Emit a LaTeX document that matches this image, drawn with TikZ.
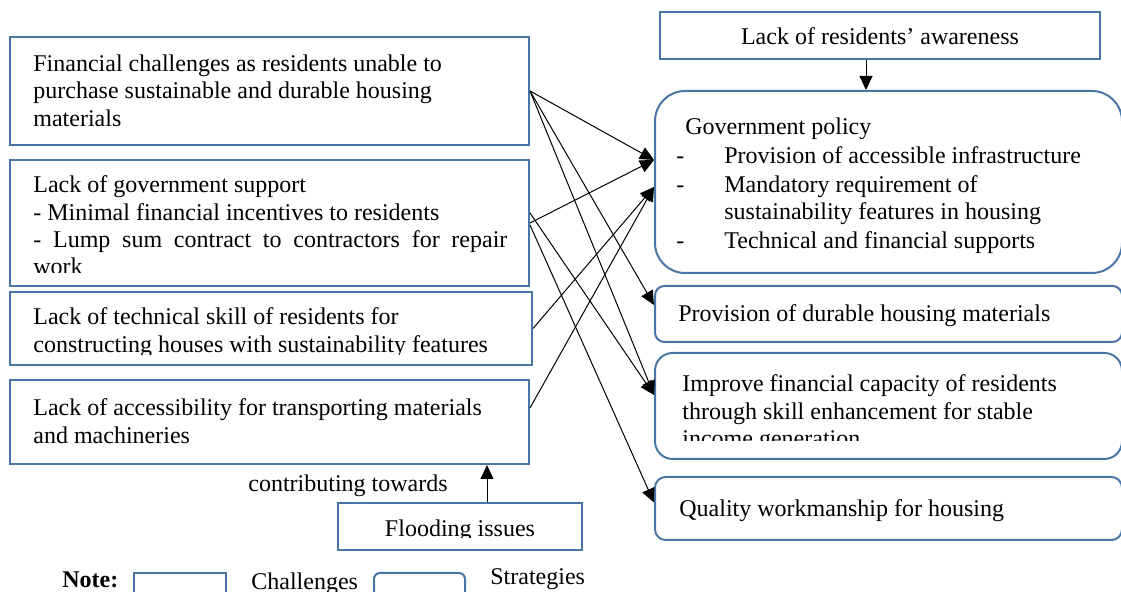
\documentclass[tikz,border=0pt]{standalone}
\usepackage{fontspec}
\setmainfont{Liberation Serif}
\usepackage{xcolor}
\definecolor{boxblue}{HTML}{4A76A6}
\usepackage{tikz}
\usetikzlibrary{arrows.meta,calc}

\begin{document}
\begin{tikzpicture}[x=0.5pt, y=-0.5pt, font=\fontsize{12}{13.6}\selectfont,
  chal/.style={draw=boxblue, line width=1pt, inner sep=0pt},
  strat/.style={chal, rounded corners=#1}, strat/.default=5pt,
  txt/.style={anchor=base west, inner sep=0pt, text width=250pt, align=flush left},
  arr/.style={-{Triangle[length=7pt,width=6.5pt]}, line width=0.5pt}]
  \useasboundingbox (0,0) rectangle (1121,592);

  % challenges, left column
  \node[chal, minimum width=259.5pt, minimum height=54pt] (fin) at (269.5,91) {};
  \node[chal, minimum width=259.5pt, minimum height=63pt] (govsup) at (269.5,223) {};
  \node[chal, minimum width=261pt, minimum height=36.5pt] (skill) at (271,328.5) {};
  \node[chal, minimum width=259.5pt, minimum height=42pt] (access) at (269.5,422) {};
  \node[chal, minimum width=122pt, minimum height=23.5pt] (flood) at (460,526.5) {};
  \node[chal, minimum width=220pt, minimum height=23.5pt] (aware) at (880,35.5) {};

  \node[txt] (fintxt) at (33,71.7)
    {Financial challenges as residents unable to\\
     purchase sustainable and durable housing\\materials};
  \begin{scope}
    \clip (10,160) rectangle (529,273);
    \node[txt] (govsuptxt) at (33,193)
      {Lack of government support\\
       - Minimal financial incentives to residents\\
       \leavevmode\hbox to 237pt{-\hfill Lump\hfill sum\hfill contract\hfill to\hfill
         contractors\hfill for\hfill repair}\\work};
  \end{scope}
  \begin{scope}
    \clip (10,292) rectangle (532,355);
    \node[txt] (skilltxt) at (33,325)
      {Lack of technical skill of residents for\\[0.4pt]
       constructing houses with sustainability features};
  \end{scope}
  \node[txt] (accesstxt) at (33,416)
    {Lack of accessibility for transporting materials\\and machineries};
  \begin{scope}
    \clip (338,503) rectangle (582,538);
    \node[anchor=base, inner sep=0pt] (floodtxt) at (460,537) {Flooding issues};
  \end{scope}
  \node[anchor=base, inner sep=0pt] (awaretxt) at (880,45) {Lack of residents’ awareness};
  \node[anchor=base west, inner sep=0pt] (contrib) at (248,492) {contributing towards};

  % strategies, right column
  \node[strat=15pt, minimum width=233.5pt, minimum height=91pt] (policy) at (888.5,182) {};
  \node[strat=4.7pt, minimum width=233.5pt, minimum height=28pt] (durable) at (888.5,314) {};
  \node[strat=8.8pt, minimum width=233.5pt, minimum height=53pt] (income) at (888.5,406) {};
  \node[strat=5.3pt, minimum width=233.5pt, minimum height=31.5pt] (quality) at (888.5,508.5) {};

  \node[txt, text width=222pt] (policytxt) at (676,135)
    {\hspace*{4.5pt}Government policy\\[0.6pt]
     \makebox[24pt][l]{-}Provision of accessible infrastructure\\[0.8pt]
     \makebox[24pt][l]{-}Mandatory requirement of\\
     \hspace*{24pt}sustainability features in housing\\[0.8pt]
     \makebox[24pt][l]{-}Technical and financial supports};
  \node[txt, text width=220pt] (durabletxt) at (678,322) {Provision of durable housing materials};
  \begin{scope}
    \clip (655,353) rectangle (1121,441);
    \node[txt, text width=220pt] (incometxt) at (682,392)
      {Improve financial capacity of residents\\
       through skill enhancement for stable\\income generation};
  \end{scope}
  \node[txt, text width=220pt] (qualitytxt) at (679,517) {Quality workmanship for housing};

  % links from challenges to strategies
  \draw[arr] (fin.east) -- ([yshift=11pt]policy.west);
  \draw[arr] (fin.east) -- ([yshift=4.5pt]durable.west);
  \draw[arr] (fin.east) -- ([yshift=5.5pt]income.west);
  \draw[arr] (govsup.east) -- ([yshift=11pt]policy.west);
  \draw[arr] ([yshift=5pt]govsup.east) -- ([yshift=5.5pt]income.west);
  \draw[arr] ([yshift=-1pt]govsup.east) -- ([yshift=3pt]quality.west);
  \draw[arr] (skill.east) -- ([yshift=-2.5pt]policy.west);
  \draw[arr] ([yshift=7pt]access.east) -- ([yshift=-2.5pt]policy.west);

  \coordinate (fl) at ([xshift=13.5pt]flood.north);
  \draw[arr] (fl) -- (fl |- access.south);
  \coordinate (aw) at ([xshift=-7pt]aware.south);
  \draw[arr] (aw) -- (aw |- policy.north);

  % key
  \node[anchor=base west, inner sep=0pt] (note) at (62,588) {\bfseries Note:};
  \node[chal, minimum width=46pt, minimum height=16pt, anchor=north west] (keychal) at (133,572) {};
  \node[anchor=base west, inner sep=0pt] (keychaltxt) at (251,590) {Challenges};
  \node[strat=3pt, minimum width=45.5pt, minimum height=16pt, anchor=north west] (keystrat) at (373,572) {};
  \node[anchor=base west, inner sep=0pt] (keystrattxt) at (490,585) {Strategies};
\end{tikzpicture}
\end{document}
